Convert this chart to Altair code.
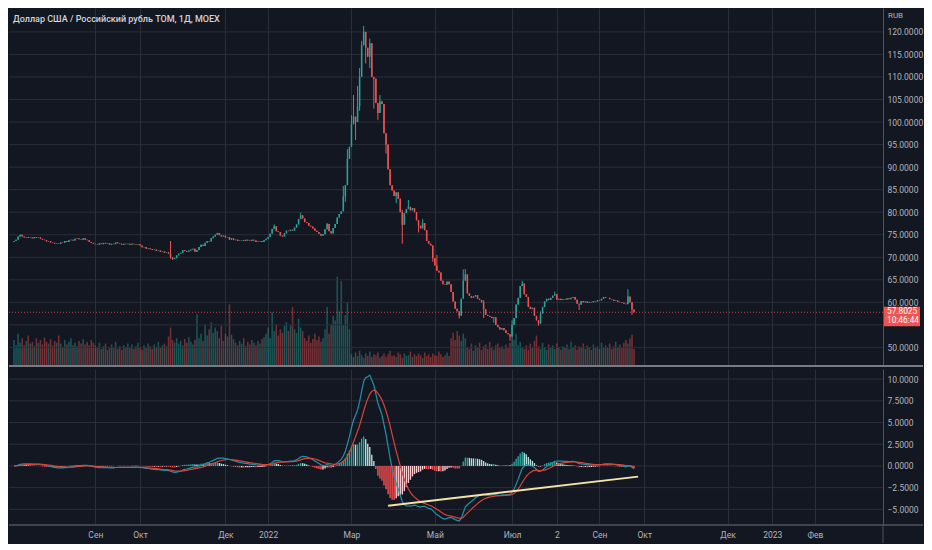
import json
import altair as alt
import pandas as pd
import numpy as np

# ---------------- data ----------------
title_text = "Доллар США / Российский рубль TOM, 1Д, MOEX"
currency = "RUB"
last_price = 57.8025
last_time = "10:46:44"
first_open = 73.4

close = [
    73.6, 73.9, 74.6, 75.0, 74.6, 74.4, 74.5, 74.3, 74.4, 74.2,
    74.5, 74.3, 74.4, 74.1, 73.9, 73.8, 73.5, 73.6, 73.3, 73.2,
    73.0, 73.1, 73.0, 73.3, 73.2, 73.6, 73.4, 73.8, 73.9, 73.7,
    74.1, 74.2, 74.0, 73.9, 74.2, 73.9, 73.8, 73.4, 73.2, 73.0,
    72.9, 72.8, 73.1, 72.9, 73.2, 73.0, 73.1, 72.8, 73.0, 72.9,
    73.3, 73.1, 73.0, 72.8, 73.0, 72.9, 73.0, 72.8, 73.0, 72.9,
    72.8, 72.9, 72.6, 72.2, 72.3, 71.9, 72.0, 71.8, 71.6, 71.7,
    71.4, 71.5, 71.2, 71.3, 71.0, 71.1, 70.8, 70.0, 69.6, 69.8,
    70.4, 70.8, 71.0, 71.6, 71.4, 71.2, 71.5, 71.7, 71.9, 71.2,
    71.6, 72.3, 72.8, 72.5, 73.2, 73.6, 73.5, 74.2, 74.6, 75.0,
    75.4, 74.9, 74.6, 74.8, 74.4, 74.5, 73.9, 74.2, 73.8, 73.9,
    73.6, 73.7, 73.8, 73.6, 73.9, 73.7, 73.6, 73.9, 73.7, 73.4,
    73.5, 73.6, 73.4, 73.8, 74.1, 74.5, 75.2, 76.3, 76.9, 75.8,
    75.6, 74.8, 74.6, 75.3, 75.9, 75.8, 76.1, 75.9, 76.6, 77.3,
    78.5, 79.3, 78.6, 77.8, 77.6, 77.0, 76.8, 76.4, 75.9, 75.6,
    75.2, 74.8, 75.1, 76.2, 77.4, 75.8, 75.3, 76.5, 77.4, 78.8,
    79.6, 80.2, 83.5, 86.0, 91.8, 94.5, 99.5, 101.2, 100.0, 103.5,
    110.0, 117.0, 120.0, 116.5, 114.5, 117.5, 110.0, 109.6, 104.2, 102.0,
    104.6, 104.0, 97.5, 95.0, 89.5, 86.0, 84.8, 83.6, 84.4, 83.0,
    80.0, 77.2, 79.8, 80.7, 81.2, 80.4, 80.9, 80.0, 78.2, 77.0,
    76.4, 77.6, 76.0, 73.6, 73.0, 72.6, 69.8, 68.2, 67.0, 66.6,
    64.8, 64.0, 63.9, 64.6, 64.0, 62.3, 60.2, 58.6, 58.0, 57.0,
    60.8, 64.8, 66.2, 62.0, 61.4, 61.0, 61.3, 61.6, 60.8, 60.5,
    60.0, 58.5, 57.2, 57.0, 56.8, 56.5, 56.7, 55.0, 54.5, 54.0,
    54.3, 53.8, 53.2, 52.9, 52.4, 55.0, 56.5, 59.5, 61.0, 63.6,
    64.2, 61.8, 61.2, 59.0, 58.5, 58.8, 57.0, 56.0, 55.3, 57.5,
    59.0, 60.2, 60.8, 60.5, 61.0, 61.5, 61.8, 60.6, 60.8, 60.5,
    60.7, 60.6, 60.9, 60.7, 61.0, 61.2, 60.6, 59.7, 59.5, 60.3,
    60.0, 60.2, 59.9, 60.1, 60.0, 60.3, 60.2, 60.5, 60.4, 60.8,
    61.2, 61.0, 61.0, 60.7, 60.6, 60.3, 60.4, 60.1, 60.0, 59.9,
    59.7, 59.6, 61.3, 60.0, 58.4, 57.8025,
]

volume = [
    28, 22, 35, 25, 30, 22, 27, 33, 24, 26, 21, 30, 25, 28, 23, 31, 26, 24, 29, 22,
    27, 25, 33, 24, 20, 28, 23, 26, 30, 22, 25, 21, 27, 24, 29, 23, 26, 22, 28, 25,
    22, 19, 25, 18, 21, 24, 17, 20, 23, 19, 26, 18, 21, 17, 22, 20, 24, 19, 23, 18,
    21, 25, 20, 17, 22, 19, 24, 21, 18, 23, 20, 26, 19, 22, 24, 21,
    32, 42, 28, 25, 30,
    24, 27, 22, 29, 25, 31, 26, 23, 28,
    57,
    30, 35, 27, 45, 33, 40, 48, 36, 42,
    38, 30, 44, 27, 35, 32,
    68,
    34, 29, 25, 22, 27, 24, 30, 21, 26, 23, 28, 25, 22, 27, 24, 29, 31,
    35, 42, 30, 59, 38, 46, 33, 40, 36, 44, 48, 38, 45, 65, 40, 36, 52, 42, 38,
    30, 27, 33, 25, 29, 35, 28, 32, 26, 30,
    40, 65, 35, 45, 55, 50, 99, 60, 94, 45, 56, 70, 40,
    12, 9, 14, 10, 16, 11, 8, 13, 10, 15, 9, 12, 11, 14, 8, 10, 13, 9, 12, 16,
    10, 11, 9, 14, 12, 8, 13, 10, 11, 15, 9, 12, 10, 13, 11, 8, 14, 10, 12, 9,
    13, 11, 10, 15, 12, 9, 11, 14, 10,
    30, 36, 28, 38, 33, 27, 35, 30,
    20, 18, 24, 16, 22, 19, 25, 17, 21, 23, 18, 26, 20, 17, 22, 24, 19, 21, 18, 23, 20, 25,
    33, 28, 35, 22, 26, 20,
    18, 22, 17, 24, 19, 27, 33, 21, 18, 25, 20, 17, 23, 19, 22, 18, 24, 20, 17, 21,
    19, 23, 18, 26, 20, 22, 17, 21, 19, 24, 18, 22, 20, 17, 23, 19, 21, 18, 25, 20,
    22, 19, 24, 18, 21, 26, 20, 23, 19, 25, 28, 24, 30, 34, 18,
]

wick_high = {77: 73.6, 128: 77.3, 141: 79.9, 154: 77.6, 162: 85.8, 164: 94.0,
             166: 101.5, 167: 106.0, 169: 108.0, 170: 112.0, 171: 118.0,
             172: 121.3, 173: 119.0, 175: 118.5, 176: 113.0, 178: 107.0,
             180: 106.0, 182: 100.0, 184: 92.0, 191: 80.5, 194: 82.7,
             201: 78.5, 208: 70.5, 216: 62.0, 221: 67.3, 222: 67.4, 231: 60.5,
             245: 56.0, 250: 64.8, 259: 58.0, 266: 62.4, 302: 62.9}
wick_low = {77: 69.7, 78: 69.4, 163: 82.3, 168: 96.0, 170: 102.5, 173: 113.0,
            175: 112.0, 177: 103.0, 179: 100.5, 183: 93.0, 188: 82.0,
            191: 73.0, 199: 75.5, 206: 69.0, 219: 56.4, 231: 56.5, 236: 55.5,
            244: 51.5, 258: 54.8, 278: 58.3, 304: 57.2}

tick_pos = [40, 62, 104, 125, 166, 207, 245, 267, 288, 310, 351, 373, 394]
tick_lbl = ["Сен", "Окт", "Дек", "2022", "Мар", "Май", "Июл", "2", "Сен", "Окт",
            "Дек", "2023", "Фев"]
price_ticks = [50, 55, 60, 65, 70, 75, 80, 85, 90, 95, 100, 105, 110, 115, 120]
macd_ticks = [-5, -2.5, 0, 2.5, 5, 7.5, 10]
trend_x = [184, 307]
trend_y = [-4.58, -1.23]

# ---------------- styling ----------------
BG = "#131722"
GRID = "#2a2e39"
TXT = "#b2b5be"
UP = "#26a69a"
DOWN = "#ef5350"
MACD_C = "#2291a8"
SIG_C = "#d8443a"
FONT = "Roboto"

W, H1, H2 = 874, 357, 156
X_DOM = [0, 425]
P_DOM = [46.1, 125.3]
M_DOM = [-6.8, 11.16]
BOX_UP, BOX_DOWN = 5.5, 14  # last-price tag extent (px) above / below the price line

# ---------------- tables ----------------
n = min(len(close), len(volume))
c = close[:n]
o = [first_open] + c[:-1]
rows = []
for i in range(n):
    hi = max(o[i], c[i], wick_high.get(i, -1e9))
    lo = min(o[i], c[i], wick_low.get(i, 1e9))
    rows.append(dict(i=i, open=o[i], close=c[i], high=hi, low=lo,
                     vol=volume[i], color=UP if c[i] >= o[i] else DOWN))
df = pd.DataFrame(rows)

s = pd.Series(c)
macd = s.ewm(span=12, adjust=False).mean() - s.ewm(span=26, adjust=False).mean()
signal = macd.ewm(span=9, adjust=False).mean()
hist = macd - signal
prev = hist.shift(1).fillna(0)
hcol = np.where(hist >= 0,
                np.where(hist > prev, "#26a69a", "#b2dfdb"),
                np.where(hist < prev, "#ff5252", "#ffcdd2"))
mdf = pd.DataFrame(dict(i=range(n), macd=macd, signal=signal, hist=hist, hcol=hcol))
tdf = pd.DataFrame(dict(x=[trend_x[0]], x2=[trend_x[1]], y=[trend_y[0]], y2=[trend_y[1]]))
pgrid = pd.DataFrame(dict(v=price_ticks))
mgrid = pd.DataFrame(dict(v=macd_ticks))

# price labels that sit under the last-price tag are hidden by it (as in the reference)
ppu = H1 / (P_DOM[1] - P_DOM[0])
hidden = [t for t in price_ticks
          if last_price - (BOX_DOWN + 4) / ppu < t < last_price + (BOX_UP + 4) / ppu]

xs = alt.Scale(domain=X_DOM, nice=False, zero=False)
ps = alt.Scale(domain=P_DOM, nice=False, zero=False)
ms = alt.Scale(domain=M_DOM, nice=False, zero=False)

label_expr = "{}[indexof({}, datum.value)]".format(
    json.dumps(tick_lbl, ensure_ascii=False), json.dumps(tick_pos))
p_label_expr = "indexof({}, datum.value) >= 0 ? '' : format(datum.value, '.4f')".format(
    json.dumps(hidden))
m_label_expr = "format(datum.value, '.4f')"

x_top_axis = alt.Axis(values=tick_pos, grid=True, gridColor=GRID, labels=False,
                      ticks=False, domain=False, title=None)
x_bot_axis = alt.Axis(values=tick_pos, grid=True, gridColor=GRID, labelExpr=label_expr,
                      ticks=False, domain=False, title=None, labelColor=TXT,
                      labelFontSize=8.5, labelFont=FONT, labelPadding=5, labelFlush=False,
                      labelOverlap=False)
p_axis = alt.Axis(values=price_ticks, labelExpr=p_label_expr, orient="right", grid=False,
                  ticks=False, domainColor="#50535e", labelColor=TXT,
                  labelFontSize=8.5, labelFont=FONT, labelPadding=4, title=None,
                  labelOverlap=False, labelFlush=False, tickCount=len(price_ticks))
m_axis = alt.Axis(values=macd_ticks, labelExpr=m_label_expr, orient="right", grid=False,
                  ticks=False, domainColor="#50535e", labelColor=TXT,
                  labelFontSize=8.5, labelFont=FONT, labelPadding=4, title=None,
                  labelOverlap=False, labelFlush=False, tickCount=len(macd_ticks))

base = alt.Chart(df)

vol = base.mark_bar(orient="vertical", size=1.5, opacity=0.45).encode(
    x=alt.X("i:Q", scale=xs, axis=x_top_axis),
    y=alt.Y("vol:Q", scale=alt.Scale(domain=[0, 400], nice=False), axis=None),
    color=alt.Color("color:N", scale=None),
)

pgrid_l = alt.Chart(pgrid).mark_rule(color=GRID, strokeWidth=1).encode(
    y=alt.Y("v:Q", scale=ps, axis=p_axis))
wicks = base.mark_rule(strokeWidth=1).encode(
    x=alt.X("i:Q", scale=xs, axis=x_top_axis),
    y=alt.Y("low:Q", scale=ps, axis=p_axis),
    y2="high:Q",
    color=alt.Color("color:N", scale=None),
)
bodies = base.mark_bar(orient="vertical", size=1.5).encode(
    x=alt.X("i:Q", scale=xs, axis=x_top_axis),
    y=alt.Y("open:Q", scale=ps, axis=p_axis),
    y2="close:Q",
    color=alt.Color("color:N", scale=None),
)
lp = pd.DataFrame(dict(p=[last_price], txt=["{:.4f}".format(last_price)], t=[last_time]))
price_line = alt.Chart(lp).mark_rule(color=DOWN, strokeDash=[1, 2], opacity=0.8,
                                     strokeWidth=1).encode(
    y=alt.Y("p:Q", scale=ps, axis=p_axis), x=alt.value(0), x2=alt.value(W))
price_box = alt.Chart(lp).mark_rect(color=DOWN, yOffset=-BOX_UP, y2Offset=BOX_DOWN).encode(
    y=alt.Y("p:Q", scale=ps, axis=p_axis), y2="p:Q", x=alt.value(W + 1), x2=alt.value(W + 37))
price_txt = alt.Chart(lp).mark_text(align="left", baseline="middle", fontSize=8.3,
                                    font=FONT, color="#ffffff").encode(
    y=alt.Y("p:Q", scale=ps, axis=p_axis), x=alt.value(W + 4), text="txt:N")
time_txt = alt.Chart(lp).mark_text(align="left", baseline="middle", fontSize=8.3,
                                   font=FONT, color="#ffffff", dy=9).encode(
    y=alt.Y("p:Q", scale=ps, axis=p_axis), x=alt.value(W + 4), text="t:N")

ttl = alt.Chart(pd.DataFrame(dict(t=[title_text]))).mark_text(
    align="left", baseline="middle", fontSize=9, font=FONT, color="#d1d4dc",
    fontWeight=500).encode(text="t:N", x=alt.value(4), y=alt.value(11))
rub = alt.Chart(pd.DataFrame(dict(t=[currency]))).mark_text(
    align="left", baseline="middle", fontSize=8, font=FONT, color=TXT).encode(
    text="t:N", x=alt.value(W + 5), y=alt.value(8))
sep = alt.Chart(pd.DataFrame(dict(a=[0]))).mark_rule(color="#787b86", strokeWidth=2).encode(
    x=alt.value(0), x2=alt.value(W + 40), y=alt.value(H1 + 1))

price_layer = alt.layer(pgrid_l, wicks, bodies, price_line, price_box, price_txt, time_txt)
top = alt.layer(vol, price_layer, ttl, rub, sep).resolve_scale(y="independent").properties(
    width=W, height=H1)

mb = alt.Chart(mdf)
mgrid_l = alt.Chart(mgrid).mark_rule(color=GRID, strokeWidth=1).encode(
    y=alt.Y("v:Q", scale=ms, axis=m_axis))
hbars = mb.mark_bar(orient="vertical", size=1.4).encode(
    x=alt.X("i:Q", scale=xs, axis=x_bot_axis),
    y=alt.Y("hist:Q", scale=ms, axis=m_axis),
    y2=alt.datum(0),
    color=alt.Color("hcol:N", scale=None),
)
mline = mb.mark_line(color=MACD_C, strokeWidth=1.2).encode(
    x=alt.X("i:Q", scale=xs, axis=x_bot_axis), y=alt.Y("macd:Q", scale=ms, axis=m_axis))
sline = mb.mark_line(color=SIG_C, strokeWidth=1.2).encode(
    x=alt.X("i:Q", scale=xs, axis=x_bot_axis), y=alt.Y("signal:Q", scale=ms, axis=m_axis))
trend = alt.Chart(tdf).mark_rule(color="#f3e3a6", strokeWidth=2).encode(
    x=alt.X("x:Q", scale=xs, axis=x_bot_axis), x2="x2:Q",
    y=alt.Y("y:Q", scale=ms, axis=m_axis), y2="y2:Q")
bot_line = alt.Chart(pd.DataFrame(dict(a=[0]))).mark_rule(color="#50535e", strokeWidth=1.5).encode(
    x=alt.value(0), x2=alt.value(W + 40), y=alt.value(H2))
axis_ext = alt.Chart(pd.DataFrame(dict(a=[0]))).mark_rule(color="#50535e", strokeWidth=1).encode(
    x=alt.value(W), y=alt.value(H2), y2=alt.value(H2 + 18))

bottom = alt.layer(mgrid_l, hbars, mline, sline, trend, bot_line, axis_ext).properties(
    width=W, height=H2)

chart = alt.vconcat(top, bottom, spacing=2).properties(
    background=BG, padding=0
).configure_view(stroke=None).configure_axis(labelFont=FONT, labelOverlap=False)

chart.save("out.html", embed_options={"renderer": "svg", "actions": False})
